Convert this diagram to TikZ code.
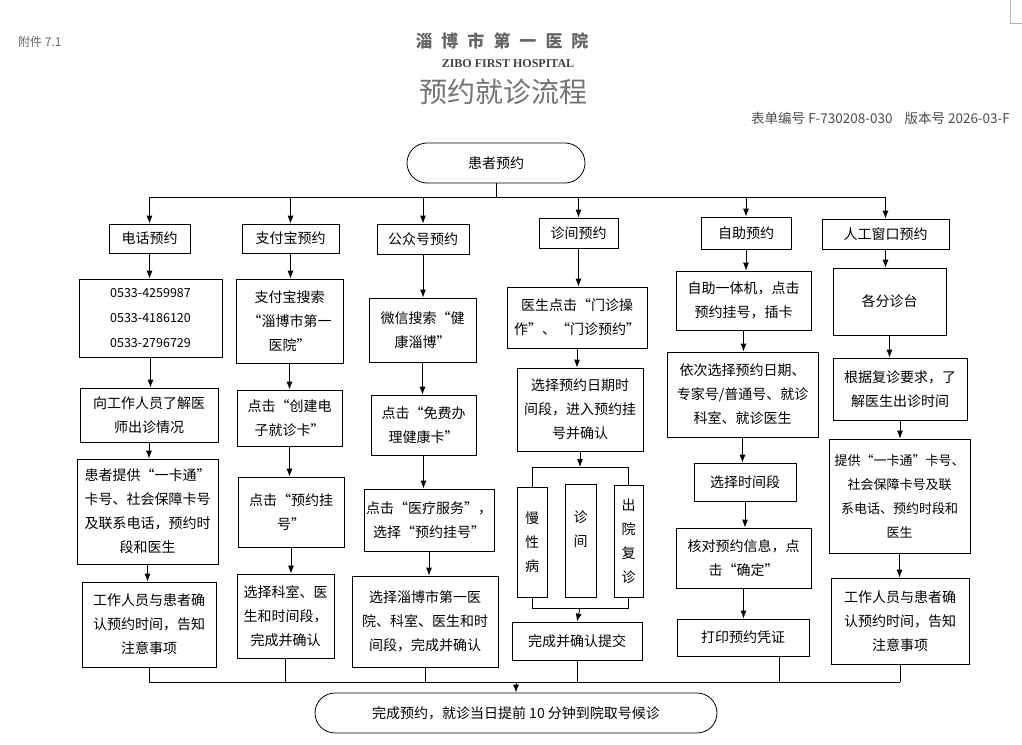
\documentclass[tikz,border=0pt]{standalone}
\usepackage{fontspec}
\setmainfont{Noto Sans CJK SC}
\newfontfamily\enfont{Liberation Serif}
\usepackage{tikz}
\usetikzlibrary{arrows.meta}

\tikzset{
  box/.style={draw, line width=0.8pt, align=center, inner sep=0pt, font=\fontsize{14}{24}\selectfont},
  sz/.style 2 args={minimum width=#1pt, minimum height=#2pt},
  arr/.style={line width=0.8pt, -{Latex[length=8pt,width=6pt]}},
  ln/.style={line width=0.8pt},
  hdr/.style={align=center, inner sep=0pt, text=black!60}
}

\begin{document}
\begin{tikzpicture}[x=1pt,y=-1pt]
\useasboundingbox (0,0) rectangle (1022,744);

\draw[black!30, line width=0.8pt] (1010,0) -- (1010,23) -- (1022,23);

% header
\node[hdr, anchor=west, font=\fontsize{12}{14}\selectfont] (fj) at (18,42) {附件 7.1};
\node[hdr, font=\fontsize{17}{20}\selectfont\bfseries] (yy) at (502,41)
  {淄\hspace{9pt}博\hspace{9pt}市\hspace{9pt}第\hspace{9pt}一\hspace{9pt}医\hspace{9pt}院};
\node[hdr, text=black!75, font=\enfont\bfseries\fontsize{12}{14}\selectfont] (en) at (508,64) {ZIBO FIRST HOSPITAL};
\node[hdr, text=black!55, font=\fontsize{28}{30}\selectfont] (tt) at (503,92) {预约就诊流程};
\node[hdr, anchor=east, text=black!70, font=\fontsize{13.5}{15}\selectfont] (bh) at (1010,118)
  {表单编号 F-730208-030\hspace{12pt}版本号 2026-03-F};

% start / end
\node[box, sz={178}{40}, rounded corners=20pt] (s0) at (496,163) {患者预约};
\node[box, sz={402}{40}, rounded corners=20pt] (e0) at (516,713) {完成预约，就诊当日提前 10 分钟到院取号候诊};

% channels
\node[box, sz={81}{29}]  (c1) at (149.5,238.5) {电话预约};
\node[box, sz={97}{29}]  (c2) at (290.5,238.5) {支付宝预约};
\node[box, sz={92}{30}]  (c3) at (423,239) {公众号预约};
\node[box, sz={79}{30}]  (c4) at (578.5,233) {诊间预约};
\node[box, sz={90}{32}]  (c5) at (746,233) {自助预约};
\node[box, sz={127}{30}] (c6) at (885.5,234) {人工窗口预约};

% phone
\node[box, sz={143}{78}, font=\fontsize{12.5}{25}\selectfont] (p1) at (150.5,318) {0533-4259987\\0533-4186120\\0533-2796729};
\node[box, sz={138}{54}]  (p2) at (149,415) {向工作人员了解医\\师出诊情况};
\node[box, sz={141}{105}] (p3) at (147.5,511.5) {患者提供“一卡通”\\卡号、社会保障卡号\\及联系电话，预约时\\段和医生};
\node[box, sz={134}{85}]  (p4) at (149,624.5) {工作人员与患者确\\认预约时间，告知\\注意事项};

% alipay
\node[box, sz={107}{84}] (a1) at (289.5,321) {支付宝搜索\\“淄博市第一\\医院”};
\node[box, sz={105}{56}] (a2) at (289.5,418) {点击“创建电\\子就诊卡”};
\node[box, sz={106}{70}] (a3) at (291,512) {点击“预约挂\\号”};
\node[box, sz={97}{84}]  (a4) at (285.5,616) {选择科室、医\\生和时间段，\\完成并确认};

% wechat
\node[box, sz={107}{64}] (w1) at (422.5,330) {微信搜索“健\\康淄博”};
\node[box, sz={105}{60}] (w2) at (423.5,425) {点击“免费办\\理健康卡”};
\node[box, sz={130}{62}] (w3) at (429,520) {点击“医疗服务”，\\选择“预约挂号”};
\node[box, sz={146}{91}] (w4) at (425,621.5) {选择淄博市第一医\\院、科室、医生和时\\间段，完成并确认};

% clinic
\node[box, sz={140}{61}]  (d1) at (577,317.5) {医生点击“门诊操\\作”、“门诊预约”};
\node[box, sz={126}{83}]  (d2) at (580,409.5) {选择预约日期时\\间段，进入预约挂\\号并确认};
\node[box, sz={30}{110}]  (s1) at (532,542) {慢\\性\\病};
\node[box, sz={31}{113}]  (s2) at (580.5,540.5) {诊\\间\\\mbox{}};
\node[box, sz={29}{112}]  (s3) at (628.5,541) {出\\院\\复\\诊};
\node[box, sz={130}{38}]  (d3) at (577,641) {完成并确认提交};

% self-service
\node[box, sz={135}{59}]  (z1) at (743.5,300.5) {自助一体机，点击\\预约挂号，插卡};
\node[box, sz={151}{85}]  (z2) at (742.5,394.5) {依次选择预约日期、\\专家号/普通号、就诊\\科室、就诊医生};
\node[box, sz={102}{38}]  (z3) at (745,482) {选择时间段};
\node[box, sz={135}{60}]  (z4) at (743.5,558) {核对预约信息，点\\击“确定”};
\node[box, sz={132}{37}]  (z5) at (743,637.5) {打印预约凭证};

% window
\node[box, sz={113}{67}]  (m1) at (889.5,301.5) {各分诊台};
\node[box, sz={134}{62}]  (m2) at (900,389) {根据复诊要求，了\\解医生出诊时间};
\node[box, sz={141}{114}, font=\fontsize{13}{24}\selectfont] (m3) at (899.5,496) {提供“一卡通”卡号、\\社会保障卡号及联\\系电话、预约时段和\\医生};
\node[box, sz={138}{86}]  (m4) at (900,621) {工作人员与患者确\\认预约时间，告知\\注意事项};

% top bar
\coordinate (bar) at (0,197);
\draw[ln] (s0.south) -- (s0.south |- bar);
\draw[ln] (c1.north |- bar) -- (c6.north |- bar);
\foreach \n in {c1,c2,c3,c4,c5,c6}
{
\draw[arr] (\n.north |- bar) -- (\n.north);
}

% steps
\foreach \a/\b in {c1/p1,p1/p2,p2/p3,p3/p4,c2/a1,a1/a2,a2/a3,a3/a4,c3/w1,w1/w2,w2/w3,w3/w4,
  c4/d1,d1/d2,c5/z1,z1/z2,z2/z3,z3/z4,z4/z5,c6/m1,m1/m2,m2/m3,m3/m4}
{
\draw[arr] (\a.south) -- (\a.south |- \b.north);
}

% branches
\coordinate (tb) at (580,467);
\coordinate (bb) at (580,608);
\draw[arr] (d2.south) -- (tb);
\draw[ln] (s1.north) -- (s1.north |- tb) -- (s3.north |- tb) -- (s3.north);
\draw[ln] (s1.south) -- (s1.south |- bb) -- (s3.south |- bb) -- (s3.south);
\draw[arr] (bb) -- (d3.north);

% bottom bar
\coordinate (bot) at (0,682);
\coordinate (z5r) at (779,656);
\draw[ln] (p4.south |- bot) -- (m4.south |- bot);
\foreach \n in {p4,a4,w4,d3,m4}
{
\draw[ln] (\n.south) -- (\n.south |- bot);
}
\draw[ln] (z5r) -- (z5r |- bot);
\draw[arr] (e0.north |- bot) -- (e0.north);
\end{tikzpicture}
\end{document}
